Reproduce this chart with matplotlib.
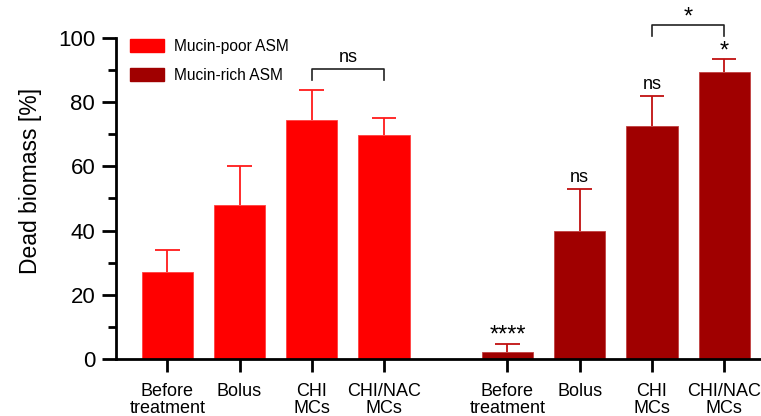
import matplotlib.pyplot as plt
import numpy as np
from matplotlib.patches import Patch

# ---- data ----
groups = ['Mucin-poor ASM', 'Mucin-rich ASM']
categories = ['Before\ntreatment', 'Bolus', 'CHI\nMCs', 'CHI/NAC\nMCs']

poor_mean = [27.2, 48.1, 74.4, 69.9]
poor_err = [6.8, 12.1, 9.3, 5.2]
rich_mean = [2.3, 39.8, 72.6, 89.3]
rich_err = [2.5, 13.2, 9.2, 4.1]

# significance labels above the mucin-rich bars (vs mucin-poor)
rich_sig = ['****', 'ns', 'ns', '*']

colors = ['#FF0000', '#A00000']
err_colors = ['#FF1A1A', '#C01010']

plt.rcParams['font.family'] = ['Liberation Sans', 'DejaVu Sans']

fig = plt.figure(figsize=(7.61, 4.16), dpi=100)
ax = fig.add_axes([0.1524, 0.137, 0.86, 0.772])

x_poor = np.arange(4)
x_rich = np.arange(4) + 4.71
width = 0.71
cap = 0.17

def bars_with_err(xs, means, errs, color, ecolor, ecolor2):
    ax.bar(xs, means, width, color=color, edgecolor=ecolor2, linewidth=0.6, zorder=2)
    tops = np.array(means) + np.array(errs)
    ax.vlines(xs, means, tops, color=ecolor, lw=1.3, zorder=1)
    ax.hlines(tops, xs - cap, xs + cap, color=ecolor, lw=1.3, zorder=1)

bars_with_err(x_poor, poor_mean, poor_err, colors[0], err_colors[0], '#FF4040')
bars_with_err(x_rich, rich_mean, rich_err, colors[1], err_colors[1], '#C04040')

# significance text
for xi, m, e, s in zip(x_rich, rich_mean, rich_err, rich_sig):
    fs = 13 if s == 'ns' else 17
    off = 1.0 if s == 'ns' else -1.0
    ax.text(xi, m + e + off, s, ha='center', va='bottom', fontsize=fs, clip_on=False)

# brackets
def bracket(x1, x2, y_low, y_high, label, fs, off):
    ax.plot([x1, x1, x2, x2], [y_low, y_high, y_high, y_low], color='#222222', lw=1.2, clip_on=False)
    ax.text((x1 + x2) / 2, y_high + off, label, ha='center', va='bottom', fontsize=fs, clip_on=False)

bracket(x_poor[2], x_poor[3], 87.0, 90.3, 'ns', 13, 1.0)
bracket(x_rich[2], x_rich[3], 100.6, 104.0, '*', 17, -1.0)

ax.set_xlim(-0.71, 8.35)
ax.set_ylim(0, 100)
ax.set_yticks(np.arange(0, 101, 20))
ax.set_yticks(np.arange(10, 100, 20), minor=True)
ax.set_xticks(np.concatenate([x_poor, x_rich]))
ax.set_xticklabels(categories * 2, fontsize=13, linespacing=1.0)
ax.tick_params(axis='y', which='major', labelsize=16, length=10, width=2, pad=5)
ax.tick_params(axis='y', which='minor', length=6, width=2)
ax.tick_params(axis='x', length=9, width=2, pad=8)
ax.set_ylabel('Dead biomass [%]', fontsize=16.5)
ax.yaxis.set_label_coords(-0.113, 0.555)

for side in ['top', 'right']:
    ax.spines[side].set_visible(False)
for side in ['left', 'bottom']:
    ax.spines[side].set_linewidth(2)

handles = [Patch(facecolor=c, edgecolor=c) for c in colors]
ax.legend(handles, groups, loc='upper left', bbox_to_anchor=(0.0, 1.04), frameon=False,
          fontsize=11.2, handlelength=2.2, handleheight=0.9, labelspacing=0.9, handletextpad=0.6)

plt.savefig('out.png', dpi=100, facecolor='white')
